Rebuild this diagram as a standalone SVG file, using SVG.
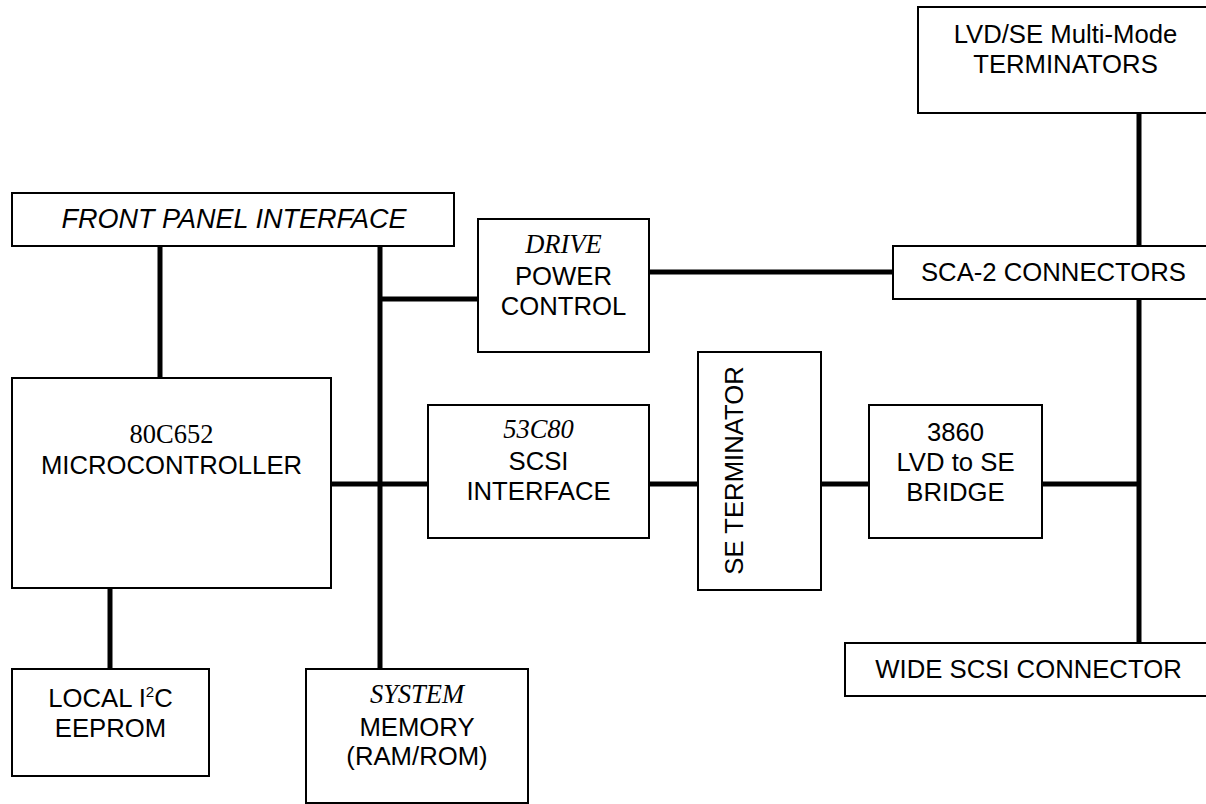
<svg xmlns="http://www.w3.org/2000/svg" width="1206" height="804" viewBox="0 0 1206 804">
<style>
.box{fill:#fff;stroke:#000;stroke-width:2}
.t{font-family:"Liberation Sans",Arial,sans-serif;font-size:25.7px;fill:#000;text-anchor:middle}
.s{font-family:"Liberation Serif","Times New Roman",serif;font-style:italic;font-size:26.5px;fill:#000;text-anchor:middle}
.i{font-style:italic;font-size:27px}
.c{stroke:#000;stroke-width:5;fill:none}
</style>
<rect width="1206" height="804" fill="#fff"/>
<g id="connectors">
<line class="c" x1="160" y1="246" x2="160" y2="378"/>
<line class="c" x1="380" y1="246" x2="380" y2="669"/>
<line class="c" x1="380" y1="299" x2="478" y2="299"/>
<line class="c" x1="649" y1="272" x2="893" y2="272"/>
<line class="c" x1="331" y1="484" x2="428" y2="484"/>
<line class="c" x1="649" y1="484" x2="698" y2="484"/>
<line class="c" x1="821" y1="484" x2="869" y2="484"/>
<line class="c" x1="1042" y1="484" x2="1139" y2="484"/>
<line class="c" x1="1139" y1="113" x2="1139" y2="246"/>
<line class="c" x1="1139" y1="299" x2="1139" y2="643"/>
<line class="c" x1="110" y1="588" x2="110" y2="669"/>
</g>
<g id="front-panel">
<rect class="box" x="12" y="193" width="442" height="53"/>
<text class="t i" x="234" y="228">FRONT PANEL INTERFACE</text>
</g>
<g id="drive-power">
<rect class="box" x="478" y="219" width="171" height="133"/>
<text class="s" x="563.5" y="253">DRIVE</text>
<text class="t" x="563.5" y="285">POWER</text>
<text class="t" x="563.5" y="315">CONTROL</text>
</g>
<g id="lvd-terminators">
<rect class="box" x="918" y="7" width="300" height="106"/>
<text class="t" x="1065.5" y="43">LVD/SE Multi-Mode</text>
<text class="t" x="1065.5" y="73">TERMINATORS</text>
</g>
<g id="sca2">
<rect class="box" x="893" y="246" width="320" height="53"/>
<text class="t" x="1053.5" y="281">SCA-2 CONNECTORS</text>
</g>
<g id="microcontroller">
<rect class="box" x="12" y="378" width="319" height="210"/>
<text class="t" style="font-family:'Liberation Serif','Times New Roman',serif;font-size:26.5px" x="171.5" y="443">80C652</text>
<text class="t" x="171.5" y="474">MICROCONTROLLER</text>
</g>
<g id="scsi-interface">
<rect class="box" x="428" y="405" width="221" height="133"/>
<text class="s" x="538.5" y="438">53C80</text>
<text class="t" x="538.5" y="470">SCSI</text>
<text class="t" x="538.5" y="500">INTERFACE</text>
</g>
<g id="se-terminator">
<rect class="box" x="698" y="352" width="123" height="238"/>
<text class="t" transform="translate(743,470.5) rotate(-90)" x="0" y="0">SE TERMINATOR</text>
</g>
<g id="bridge">
<rect class="box" x="869" y="405" width="173" height="133"/>
<text class="t" x="955.5" y="441">3860</text>
<text class="t" x="955.5" y="471">LVD to SE</text>
<text class="t" x="955.5" y="501">BRIDGE</text>
</g>
<g id="wide-scsi">
<rect class="box" x="845" y="643" width="370" height="53"/>
<text class="t" x="1028.5" y="678">WIDE SCSI CONNECTOR</text>
</g>
<g id="eeprom">
<rect class="box" x="12" y="669" width="197" height="107"/>
<text class="t" x="110.5" y="707">LOCAL I<tspan font-size="15" dy="-10">2</tspan><tspan dy="10">C</tspan></text>
<text class="t" x="110.5" y="737">EEPROM</text>
</g>
<g id="memory">
<rect class="box" x="306" y="669" width="222" height="134"/>
<text class="s" x="417" y="703">SYSTEM</text>
<text class="t" x="417" y="736">MEMORY</text>
<text class="t" x="417" y="765">(RAM/ROM)</text>
</g>
</svg>
